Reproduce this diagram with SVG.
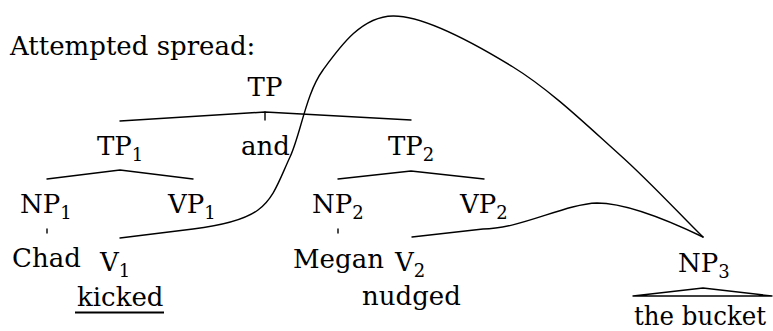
<svg xmlns="http://www.w3.org/2000/svg" width="773" height="331" viewBox="0 0 773 331">
<style>
text{font-family:"DejaVu Serif","Liberation Serif",serif;font-size:26px;fill:#000}
.s{font-size:18px}
.ln{fill:none;stroke:#000;stroke-width:1.4;stroke-linecap:round;stroke-linejoin:round}
</style>
<rect width="773" height="331" fill="#fff"/>
<text x="10" y="55">Attempted spread:</text>
<g id="TP"><text x="265" y="96" text-anchor="middle">TP</text></g>
<g id="TP1"><text x="97" y="155">TP<tspan class="s" dy="6">1</tspan></text></g>
<g id="and"><text x="241" y="155">and</text></g>
<g id="TP2"><text x="388" y="155">TP<tspan class="s" dy="6">2</tspan></text></g>
<g id="NP1"><text x="20" y="213">NP<tspan class="s" dy="6">1</tspan></text></g>
<g id="VP1"><text x="168" y="213">VP<tspan class="s" dy="6">1</tspan></text></g>
<g id="NP2"><text x="312" y="213">NP<tspan class="s" dy="6">2</tspan></text></g>
<g id="VP2"><text x="460" y="213">VP<tspan class="s" dy="6">2</tspan></text></g>
<g id="Chad"><text x="12" y="267">Chad</text></g>
<g id="V1"><text x="100" y="271">V<tspan class="s" dy="6">1</tspan></text></g>
<g id="kicked"><text x="77" y="306">kicked</text><line x1="75" y1="312.5" x2="164" y2="312.5" stroke="#000" stroke-width="2.2"/></g>
<g id="Megan"><text x="293" y="268">Megan</text></g>
<g id="V2"><text x="395" y="271">V<tspan class="s" dy="6">2</tspan></text></g>
<g id="nudged"><text x="362" y="305">nudged</text></g>
<g id="NP3"><text x="678" y="272">NP<tspan class="s" dy="6">3</tspan></text></g>
<g id="bucket"><text x="634" y="325" textLength="132" lengthAdjust="spacingAndGlyphs">the bucket</text></g>
<g id="connectors" class="ln">
<polyline points="120,121 265,112 411,120"/>
<line x1="265" y1="112" x2="265" y2="120"/>
<polyline points="47,179 120,170 193,179"/>
<polyline points="338,179 411,171 484,179"/>
<line x1="47" y1="229" x2="47" y2="233"/>
<line x1="338" y1="229" x2="338" y2="233"/>
<path d="M120,238 L193,229 C213,226.5 241.8,222 258,210 C274.2,198 279.2,180.3 290,157 C300.8,133.7 305.8,93.5 323,70 C340.2,46.5 361.3,16.5 393,16 C424.7,15.5 475.2,43.8 513,67 C550.8,90.2 588.3,126.7 620,155 C651.7,183.3 689,224 703,237"/>
<path d="M412,237 L483,229 C520,229 565,204 597,203 C630,203 678,225 703,237"/>
<path d="M703,288 L633,296 L772,296 Z"/>
</g>
</svg>
